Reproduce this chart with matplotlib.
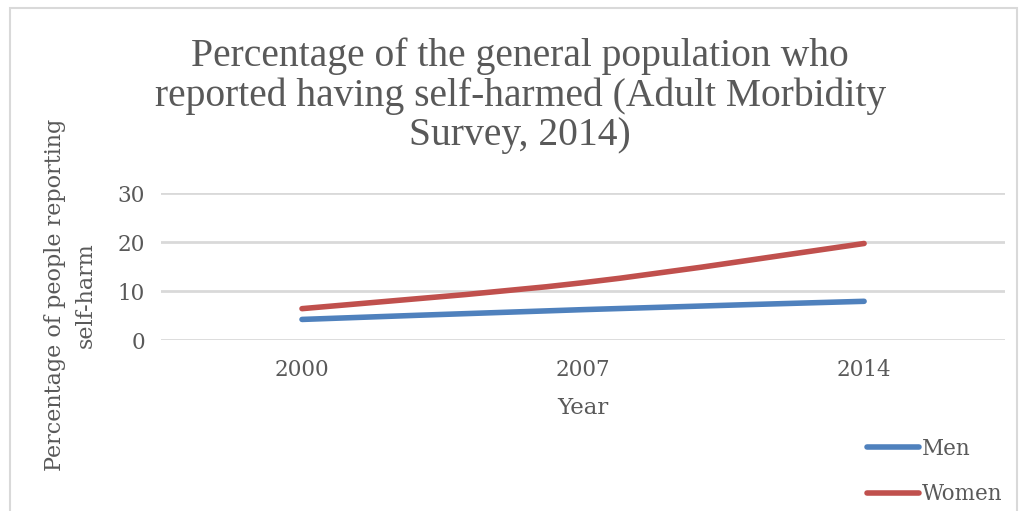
import numpy as np
import matplotlib
matplotlib.use("Agg")
import matplotlib.pyplot as plt
from matplotlib.path import Path
from matplotlib.patches import PathPatch, Rectangle
from matplotlib.lines import Line2D

# data
years = ["2000", "2007", "2014"]
men = [4.2, 6.2, 7.9]
women = [6.4, 11.7, 19.7]

blue = "#4f81bd"
red = "#c0504d"
grey_text = "#595959"

fig = plt.figure(figsize=(10.22, 5.11), dpi=100)
fig.patches.append(Rectangle((0.010, -0.01), 0.985, 0.995, transform=fig.transFigure,
                             fill=False, edgecolor="#d9d9d9", linewidth=1.5))

ax = fig.add_axes([0.158, 0.3346, 0.825, 0.2877])
x = np.arange(len(years))


def smooth_path(xs, ys):
    # Excel style smoothed line: Catmull-Rom segments as cubic Bezier curves
    pts = np.column_stack([xs, ys]).astype(float)
    verts = [pts[0]]
    codes = [Path.MOVETO]
    n = len(pts)
    for i in range(n - 1):
        p0 = pts[i - 1] if i > 0 else pts[i]
        p1 = pts[i]
        p2 = pts[i + 1]
        p3 = pts[i + 2] if i + 2 < n else pts[i + 1]
        c1 = p1 + (p2 - p0) / 6.0
        c2 = p2 - (p3 - p1) / 6.0
        verts += [c1, c2, p2]
        codes += [Path.CURVE4] * 3
    return Path(verts, codes)


for vals, col in [(men, blue), (women, red)]:
    ax.add_patch(PathPatch(smooth_path(x, vals), facecolor="none", edgecolor=col,
                           linewidth=4, capstyle="round", joinstyle="round", zorder=3))

ax.set_xlim(-0.5, 2.5)
ax.set_ylim(0, 30)
ax.set_yticks([0, 10, 20, 30])
ax.set_xticks(x)
ax.set_xticklabels(years)
ax.grid(axis="y", color="#d9d9d9", linewidth=2)
ax.set_axisbelow(True)
for s in ax.spines.values():
    s.set_visible(False)
ax.tick_params(axis="y", length=0, labelsize=15.5, colors=grey_text, pad=12)
ax.tick_params(axis="x", length=0, labelsize=15.5, colors=grey_text, pad=14)
for lab in ax.get_xticklabels() + ax.get_yticklabels():
    lab.set_family("DejaVu Serif")

ax.set_xlabel("Year", fontsize=16.5, color=grey_text, family="DejaVu Serif", labelpad=11)

fig.text(0.069, 0.423, "Percentage of people reporting\nself-harm", rotation=90,
         ha="center", va="center", fontsize=16, color=grey_text, family="DejaVu Serif",
         linespacing=1.55)

fig.text(0.509, 0.812, "Percentage of the general population who\n"
         "reported having self-harmed (Adult Morbidity\nSurvey, 2014)",
         ha="center", va="center", fontsize=28.5, color=grey_text,
         family="Liberation Serif", linespacing=1.08)

handles = [Line2D([], [], color=blue, linewidth=4, solid_capstyle="round"),
           Line2D([], [], color=red, linewidth=4, solid_capstyle="round")]
fig.legend(handles, ["Men", "Women"], loc="lower right", bbox_to_anchor=(1.0, -0.027),
           frameon=False, handlelength=2.4, handletextpad=0.15, labelspacing=1.1,
           prop={"family": "DejaVu Serif", "size": 15.5}, labelcolor=grey_text)

fig.savefig("out.png", dpi=100)
